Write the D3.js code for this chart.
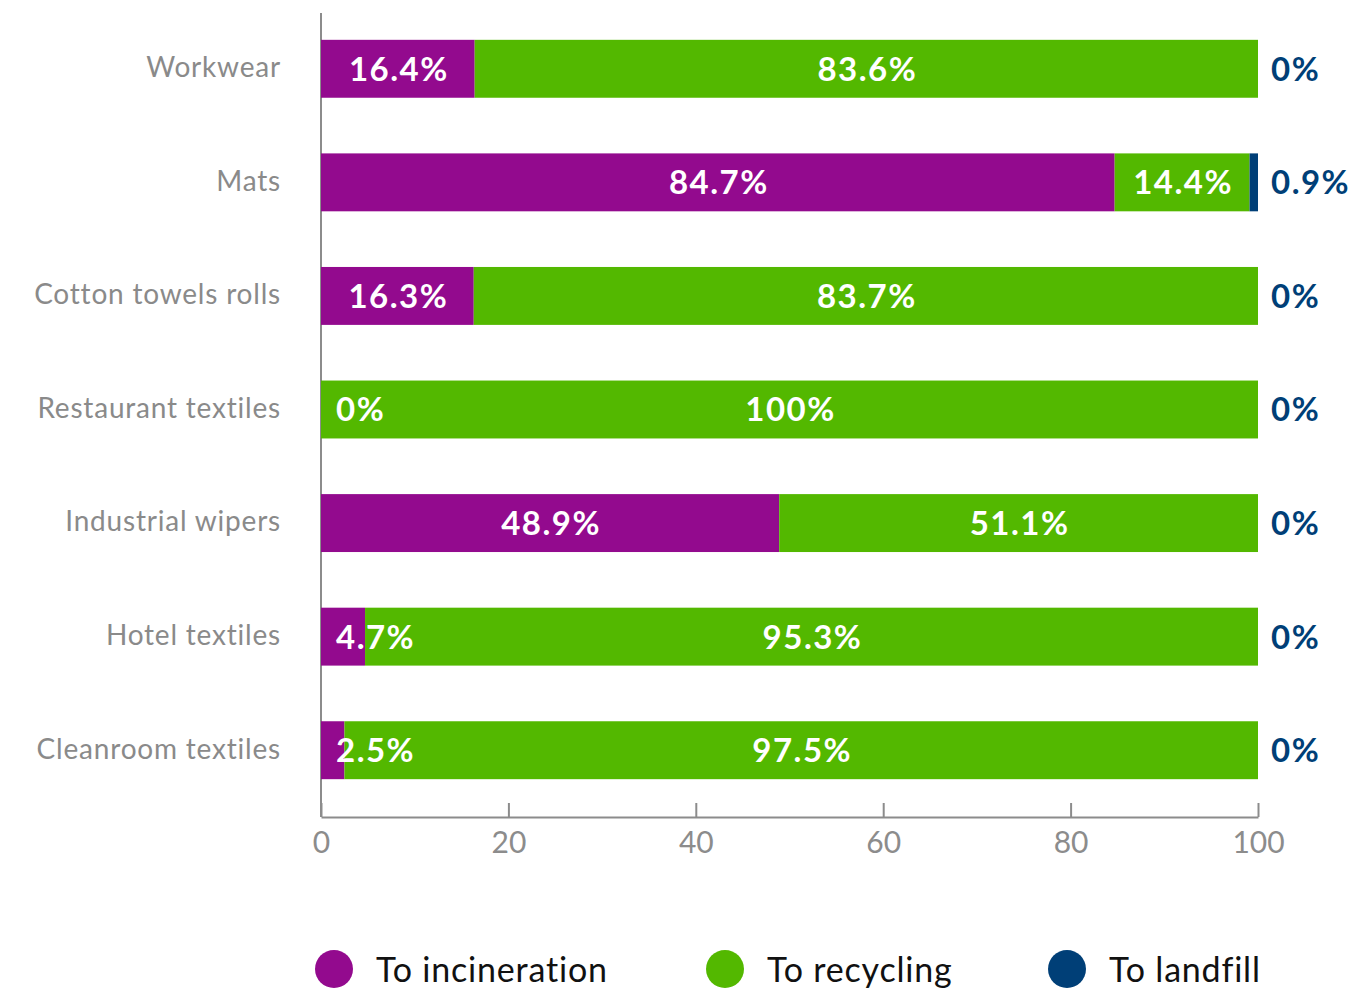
<!DOCTYPE html>
<html><head><meta charset="utf-8">
<script src="https://cdn.jsdelivr.net/npm/d3@7"></script>
<style>body{margin:0;background:#fff}</style>
</head><body>
<svg id="c" width="1353" height="994"></svg>
<script>
const categories = ["Workwear","Mats","Cotton towels rolls","Restaurant textiles","Industrial wipers","Hotel textiles","Cleanroom textiles"];
const incineration = [16.4, 84.7, 16.3, 0, 48.9, 4.7, 2.5];
const recycling = [83.6, 14.4, 83.7, 100, 51.1, 95.3, 97.5];
const landfill = [0, 0.9, 0, 0, 0, 0, 0];
const seriesNames = ["To incineration","To recycling","To landfill"];
const xTicks = [0,20,40,60,80,100];
const colors = ["#930a8e","#53b800","#003f77"];

const svg = d3.select("#c");
const x = d3.scaleLinear().domain([0,100]).range([321,1258]);
const y = d3.scaleBand().domain(categories).range([12,807]).paddingInner(0.49).paddingOuter(0.245);
const font = "Lato, 'Open Sans', sans-serif";

const rows = categories.map((c,i)=>({cat:c, vals:[incineration[i],recycling[i],landfill[i]]}));

// axes
svg.append("line").attr("x1",321).attr("x2",321).attr("y1",13).attr("y2",817).attr("stroke","#8c8c8c").attr("stroke-width",2);
const xAxis = svg.append("g").attr("transform","translate(0,817)")
  .call(d3.axisBottom(x).tickValues(xTicks).tickSizeInner(-14).tickSizeOuter(0).tickPadding(26));
xAxis.select(".domain").attr("stroke","#8c8c8c").attr("stroke-width",2);
xAxis.selectAll(".tick line").attr("stroke","#8c8c8c").attr("stroke-width",2);
xAxis.selectAll(".tick text").attr("fill","#8c8c8c").attr("font-size",30).attr("font-family",font).attr("dy","0.35em").attr("y",25);

// category labels
svg.append("g").selectAll("text").data(categories).join("text")
  .attr("x",281).attr("y",d=>y(d)+y.bandwidth()/2).attr("dy","0.3em")
  .attr("text-anchor","end").attr("fill","#8a8a8a").attr("font-size",28).attr("letter-spacing",0.8).attr("font-family",font)
  .text(d=>d);

const fmt = v => v + "%";

// segments
const segs = [];
rows.forEach(r=>{
  let acc = 0;
  r.vals.forEach((v,k)=>{ segs.push({cat:r.cat, k, v, a:acc, b:acc+v}); acc += v; });
});
svg.append("g").selectAll("rect").data(segs.filter(s=>s.v>0)).join("rect")
  .attr("x",s=>x(s.a)).attr("y",s=>y(s.cat)).attr("width",s=>x(s.b)-x(s.a)).attr("height",y.bandwidth())
  .attr("fill",s=>colors[s.k]);

// labels
const lab = svg.append("g").attr("font-family",font).attr("font-weight","bold").attr("font-size",33).attr("letter-spacing",1.5);
segs.forEach(s=>{
  const cy = y(s.cat)+y.bandwidth()/2;
  const x0 = x(s.a), x1 = x(s.b);
  if (s.k<2){
    const small = (x1-x0) < 90;
    lab.append("text").attr("x", small ? x0+15 : (x0+x1)/2 + 1).attr("y",cy).attr("dy","0.36em")
      .attr("text-anchor", small ? "start":"middle")
      .attr("fill","#fff").text(fmt(s.v));
  } else {
    lab.append("text").attr("x",x(100)+13).attr("y",cy).attr("dy","0.36em")
      .attr("fill",colors[2]).text(fmt(s.v));
  }
});

// legend
const legX = [334, 725, 1067];
const leg = svg.append("g");
seriesNames.forEach((n,i)=>{
  leg.append("circle").attr("cx",legX[i]).attr("cy",969).attr("r",19).attr("fill",colors[i]);
  leg.append("text").attr("x",legX[i]+42).attr("y",970).attr("dy","0.35em").attr("fill","#111")
    .attr("font-size",34).attr("letter-spacing",0.8).attr("font-family",font).text(n);
});
</script>
</body></html>
